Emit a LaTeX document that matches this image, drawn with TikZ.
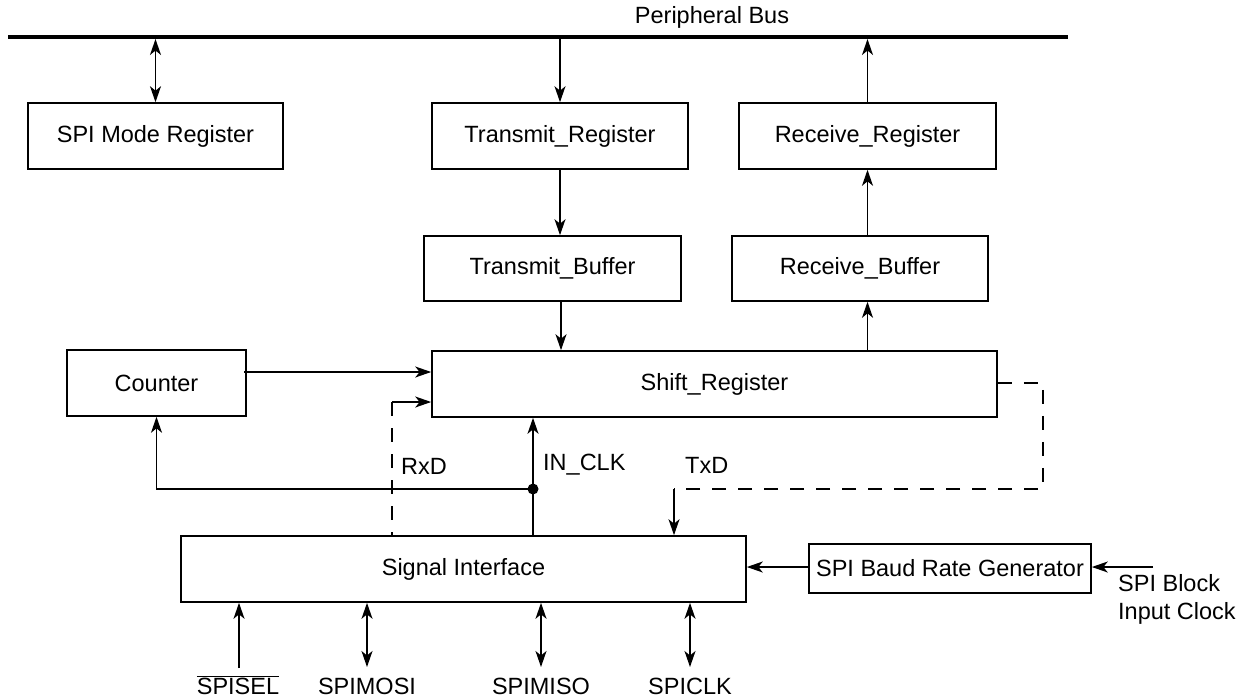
\documentclass[tikz,border=0pt]{standalone}
\usepackage{fontspec}
\setmainfont{Liberation Sans}
\usetikzlibrary{arrows.meta}
\begin{document}
\begin{tikzpicture}[x=1pt,y=-1pt,
  >={Stealth[length=16pt,width=11pt,inset=4.5pt]},
  txt/.style={font=\fontsize{23.5}{28}\selectfont},
  box/.style={draw, line width=1.6pt, inner sep=0pt, txt},
  lbl/.style={inner sep=0pt, txt},
  conn/.style={line width=1.6pt, ->},
  dconn/.style={line width=1.6pt, <->},
  dline/.style={line width=1.6pt, dash pattern=on 14pt off 12pt}]
\useasboundingbox (0,0) rectangle (1243,697);

% bus
\coordinate (busL) at (8,37);
\coordinate (busR) at (1068,37);
\coordinate (bus) at (0,39);
\draw[line width=3.8pt] (busL) -- (busR);
\node[lbl] (buslbl) at (712,17) {Peripheral Bus};

% boxes
\node[box, minimum width=255pt, minimum height=66pt] (mode) at (155.5,136) {SPI Mode Register};
\node[box, minimum width=256pt, minimum height=66pt] (treg) at (560,136) {Transmit\_Register};
\node[box, minimum width=257pt, minimum height=66pt] (rreg) at (867.5,136) {Receive\_Register};
\node[box, minimum width=257pt, minimum height=65pt] (tbuf) at (552.5,268.5) {Transmit\_Buffer};
\node[box, minimum width=256pt, minimum height=65pt] (rbuf) at (860,268.5) {Receive\_Buffer};
\node[box, minimum width=565pt, minimum height=66pt] (shift) at (714.5,384) {Shift\_Register};
\node[box, minimum width=179pt, minimum height=66pt] (counter) at (156.5,383) {Counter};
\node[box, minimum width=565pt, minimum height=66pt] (sig) at (463.5,569) {Signal Interface};
\node[box, minimum width=282pt, minimum height=49pt] (baud) at (950,568.5) {SPI Baud Rate Generator};

% bus arrows
\draw[dconn] (mode.north |- bus) -- (mode.north);
\draw[conn] (treg.north |- bus) -- (treg.north);
\draw[conn] (rreg.north) -- (rreg.north |- bus);

% register chain
\draw[conn] (treg.south) -- (treg.south |- tbuf.north);
\coordinate (tbx) at (561,0);
\draw[conn] (tbx |- tbuf.south) -- (tbx |- shift.north);
\draw[conn] (rreg.south |- shift.north) -- (rreg.south |- rbuf.south);
\draw[conn] (rreg.south |- rbuf.north) -- (rreg.south);

% counter to shift
\coordinate (c1) at (244,372);
\draw[conn] (c1) -- (c1 -| shift.west);

% RxD
\coordinate (rxc) at (392,402);
\draw[dline] (rxc) -- (rxc |- sig.north);
\draw[conn] (rxc) -- (rxc -| shift.west);
\node[lbl, anchor=west] (rxd) at (401,466) {RxD};

% IN_CLK
\coordinate (inclk) at (533,489);
\draw[conn] (inclk |- sig.north) -- (inclk |- shift.south);
\draw[conn] (inclk) -| (counter.south);
\fill (inclk) circle[radius=5.5pt];
\node[lbl, anchor=west] (inclklbl) at (543,465) {IN\_CLK};

% TxD
\coordinate (tx1) at (1043,383);
\coordinate (tx2) at (674,489);
\draw[dline] (shift.east |- tx1) -- (tx1) |- (tx2);
\draw[conn] (tx2) -- (tx2 |- sig.north);
\node[lbl, anchor=west] (txd) at (685,465) {TxD};

% baud rate
\draw[conn] (baud.west |- 0,567) -- (sig.east |- 0,567);
\coordinate (clkin) at (1153,567);
\draw[conn] (clkin) -- (clkin -| baud.east);
\node[lbl, anchor=west, align=left] (clklbl) at (1118,599) {SPI Block\\Input Clock};

% pins
\coordinate (psel) at (239,668);
\coordinate (pmosi) at (367,667);
\coordinate (pmiso) at (541,667);
\coordinate (pclk) at (690,667);
\draw[conn] (psel) -- (psel |- sig.south);
\draw[dconn] (pmosi) -- (pmosi |- sig.south);
\draw[dconn] (pmiso) -- (pmiso |- sig.south);
\draw[dconn] (pclk) -- (pclk |- sig.south);
\node[lbl, anchor=base] (lsel) at (238,694) {$\overline{\mbox{SPISEL}}$};
\node[lbl, anchor=base] (lmosi) at (367,694) {SPIMOSI};
\node[lbl, anchor=base] (lmiso) at (541,694) {SPIMISO};
\node[lbl, anchor=base] (lclk) at (690,694) {SPICLK};
\end{tikzpicture}
\end{document}
